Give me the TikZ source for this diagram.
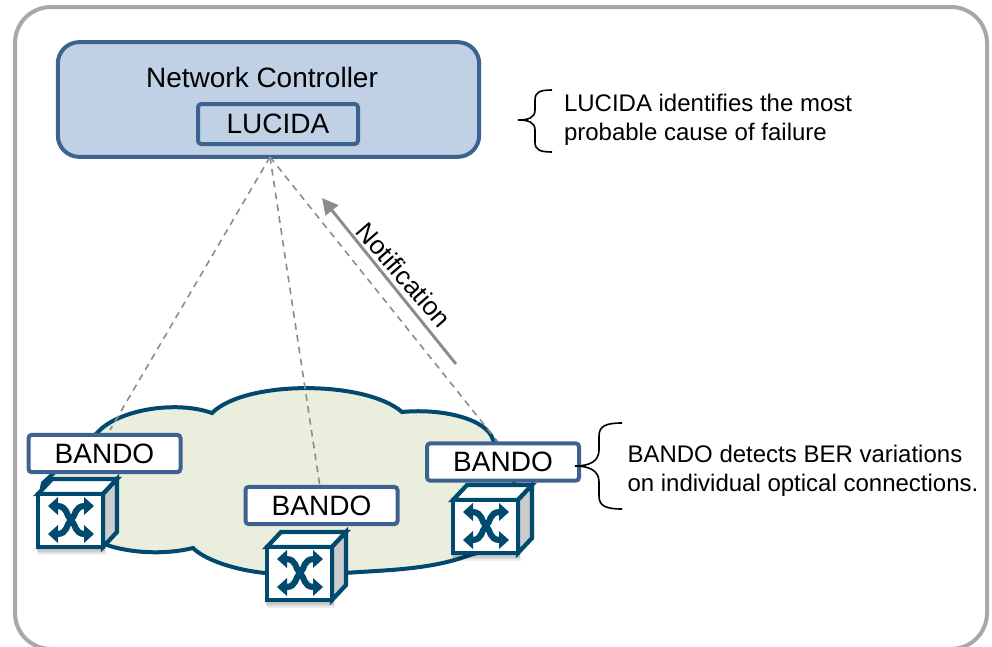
\documentclass[tikz,border=0pt]{standalone}
\usepackage{fontspec}
\usetikzlibrary{arrows.meta}
\setmainfont{Liberation Sans}
\definecolor{frameGray}{HTML}{A8A8A8}
\definecolor{ctrlFill}{HTML}{C0D1E6}
\definecolor{boxBlue}{HTML}{3D628F}
\definecolor{cloudFill}{HTML}{E9EEDD}
\definecolor{switchBlue}{HTML}{004A70}
\definecolor{linkGray}{HTML}{8C8C8C}
\tikzset{every picture/.style={line width=0.75pt}}
\tikzset{
	bandobox/.style={draw=boxBlue,line width=3pt,fill=white,rounded corners=2.5pt,minimum width=114pt,minimum height=28pt,inner sep=0pt,font=\fontsize{21}{25}\selectfont},
	notetext/.style={align=left,anchor=west,inner sep=0pt,font=\fontsize{18}{21.6}\selectfont},
	linkdash/.style={draw=linkGray,line width=1.2pt,dash pattern={on 5pt off 4pt}},
	notebrace/.style={draw=black,line width=1.2pt},
	switchbox/.pic={
		% soft shadow under the front face
		\foreach \d in {1,...,5} {
			\fill [black,opacity=0.07] (-2+\d*0.3,2) rectangle (65+\d*0.6,53+\d*1.6);
		}
		\draw [switchBlue,line width=3.2pt,fill=white,line join=miter] (0,0) -- (14,-15) -- (79,-15) -- (65,0) -- cycle;
		\draw [switchBlue,line width=3.2pt,fill=black!20,line join=miter] (65,0) -- (79,-15) -- (79,38) -- (65,53) -- cycle;
		\draw [switchBlue,line width=3.2pt,fill=white,line join=miter] (0,0) rectangle (65,53);
		\begin{scope}[shift={(33,26)}]
			\draw [switchBlue,line width=4.6pt] (-14,-14) .. controls (-3,-14) and (-5,-4) .. (0,0) .. controls (5,4) and (3,14) .. (14,14);
			\draw [switchBlue,line width=4.6pt] (14,-14) .. controls (3,-14) and (5,-4) .. (0,0) .. controls (-5,4) and (-3,14) .. (-14,14);
			\foreach \sx in {-1,1} {
				\foreach \sy in {-1,1} {
					\fill [switchBlue] (\sx*23,\sy*14) -- (\sx*13,\sy*14-9) -- (\sx*13,\sy*14+9) -- cycle;
				}
			}
		\end{scope}
	}
}

\begin{document}
\begin{tikzpicture}[x=0.75pt,y=0.75pt,yscale=-1,xscale=1]
	\useasboundingbox (0,0) rectangle (992,646);
	\clip (0,0) rectangle (992,646);

	%Outer frame
	\draw [frameGray,line width=3pt,rounded corners=27pt] (15,7) rectangle (987,649);

	%Cloud
	\draw [draw=switchBlue,line width=3pt,fill=cloudFill] (98,432) .. controls (118,410) and (175,400) .. (212,413) .. controls (245,380) and (365,380) .. (402,412) .. controls (445,408) and (488,420) .. (493,440) .. controls (500,455) and (514,465) .. (514,484) .. controls (530,520) and (510,545) .. (470,555) .. controls (430,570) and (385,570) .. (345,573) -- (265,573) .. controls (235,570) and (205,560) .. (193,548) .. controls (165,555) and (130,553) .. (107,545) .. controls (60,540) and (35,515) .. (43,483) -- cycle;

	%Controller
	\node (ctrl) [draw=boxBlue,line width=3pt,fill=ctrlFill,rounded corners=16pt,minimum width=316pt,minimum height=86pt,inner sep=0pt] at (268.5,99.5) {};
	\node (lucida) [draw=boxBlue,line width=3pt,rounded corners=2.5pt,minimum width=120pt,minimum height=30pt,inner sep=0pt,font=\fontsize{21}{25}\selectfont] at (278,124) {\raisebox{-0.8pt}{LUCIDA}};
	% Text Node
	\node (ctrlLabel) [font=\fontsize{21}{25}\selectfont,inner sep=0pt] at (262,77) {Network Controller};

	%Link ends
	\coordinate (ctrlTip) at (270,157);
	\coordinate (endA) at (110,430);
	\coordinate (endB) at (320,487);
	\coordinate (endC) at (498,442);
	\draw [linkdash] (ctrlTip) -- (endA);
	\draw [linkdash] (ctrlTip) -- (endB);
	\draw [linkdash] (ctrlTip) -- (endC);

	%Notification arrow
	\coordinate (notifyTail) at (456,364);
	\coordinate (notifyTip) at (322,198);
	\draw [linkGray,line width=2.2pt,-{Triangle[length=12pt,width=12pt]}] (notifyTail) -- (notifyTip);
	% Text Node
	\node (notifyLabel) [font=\fontsize{19.5}{23}\selectfont,rotate=-49,inner sep=0pt] at (404,275) {Notification};

	%Stub under right box
	\draw [switchBlue,line width=3pt] (514,480) -- (514,492);

	%Switches
	\pic [transform shape] at (38,494) {switchbox};
	\pic [transform shape] at (267,547) {switchbox};
	\pic [transform shape] at (453,500) {switchbox};

	%Monitor boxes
	\node (bandoA) [bandobox] at (104.5,453.5) {\raisebox{-1.2pt}{BANDO}};
	\node (bandoB) [bandobox] at (321.5,505.5) {\raisebox{-1pt}{BANDO}};
	\node (bandoC) [bandobox] at (503,462) {\raisebox{-1.2pt}{BANDO}};

	%Braces
	\draw [notebrace] (552,90) .. controls (540,90) and (535,92) .. (535,100) -- (535,110) .. controls (535,118) and (528,120) .. (518,120) .. controls (528,120) and (535,122) .. (535,130) -- (535,142) .. controls (535,150) and (540,152) .. (552,152);
	\draw [notebrace] (622,423) .. controls (606,423) and (599,426) .. (599,436) -- (599,450) .. controls (599,461) and (590,466) .. (575,466) .. controls (590,466) and (599,471) .. (599,482) -- (599,496) .. controls (599,506) and (606,509) .. (622,509);

	% Text Node
	\node (noteLucida) [notetext] at (563.5,120) {LUCIDA identifies the most\\probable cause of failure};
	% Text Node
	\node (noteBando) [notetext] at (627,471) {BANDO detects BER variations\\on individual optical connections.};

\end{tikzpicture}
\end{document}
